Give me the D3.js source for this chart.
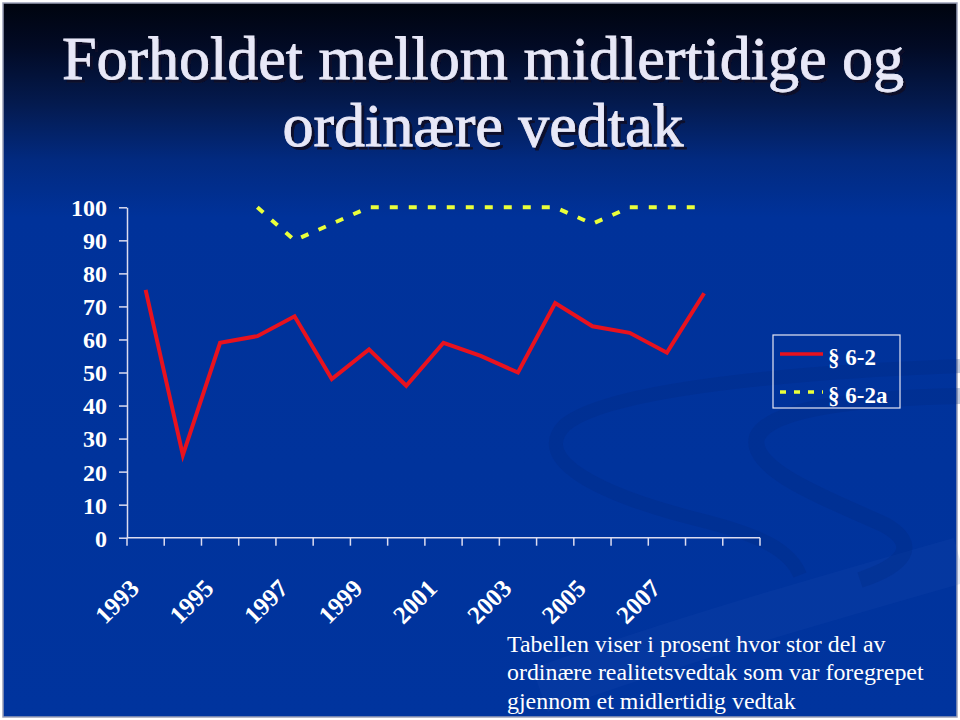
<!DOCTYPE html>
<html><head><meta charset="utf-8">
<script src="https://cdn.jsdelivr.net/npm/d3@7/dist/d3.min.js"></script>
<style>html,body{margin:0;padding:0;background:#fff;} svg{display:block}</style>
</head><body>
<script>
// ---- data ----
const categories = ["1993","1994","1995","1996","1997","1998","1999","2000","2001","2002","2003","2004","2005","2006","2007","2008","2009"];
const series62  = [75,25,59,61,67,48,57,46,59,55,50,71,64,62,56,74];
const series62a = [null,null,null,100,90,95,100,100,100,100,100,100,95,100,100,100];
const yTicks = [0,10,20,30,40,50,60,70,80,90,100];
const xLabels = ["1993","1995","1997","1999","2001","2003","2005","2007"];
const seriesNames = ["§ 6-2","§ 6-2a"];
const titleLines = ["Forholdet mellom midlertidige og","ordinære vedtak"];
const noteLines = ["Tabellen viser i prosent hvor stor del av","ordinære realitetsvedtak som var foregrepet","gjennom et midlertidig vedtak"];

const W = 960, H = 720;
const svg = d3.select("body").append("svg").attr("width", W).attr("height", H);
const defs = svg.append("defs");
const g1 = defs.append("linearGradient").attr("id","bg").attr("gradientUnits","userSpaceOnUse")
  .attr("x1",0).attr("y1",3).attr("x2",0).attr("y2",717);
[[0,"#00040f"],[0.06,"#020a24"],[0.14,"#041a4e"],[0.22,"#022a80"],[0.3,"#00329a"],[1,"#00349e"]]
  .forEach(([o,c]) => g1.append("stop").attr("offset",o).attr("stop-color",c));
const sh = defs.append("filter").attr("id","shadow").attr("x","-5%").attr("y","-20%").attr("width","110%").attr("height","150%");
sh.append("feDropShadow").attr("dx",3).attr("dy",3).attr("stdDeviation",0.6)
  .attr("flood-color","#070b28").attr("flood-opacity",0.95);

svg.append("rect").attr("width",W).attr("height",H).attr("fill","#ffffff");
svg.append("rect").attr("x",3).attr("y",3).attr("width",954).attr("height",714)
  .attr("fill","url(#bg)").attr("stroke","#9aa0b8").attr("stroke-width",1.5);

// background swooshes (subtle)
const sw = svg.append("g").attr("fill","none");
sw.append("path").attr("d","M 960,560 C 820,600 680,640 540,690")
  .attr("stroke","#2a5cc0").attr("stroke-opacity",0.12).attr("stroke-width",46);
sw.append("path").attr("d","M 960,366 C 800,372 610,388 565,425 C 530,460 600,495 700,520 C 760,535 790,550 800,575")
  .attr("stroke","#00287a").attr("stroke-opacity",0.25).attr("stroke-width",14);
sw.append("path").attr("d","M 960,396 C 860,398 770,408 757,437 C 748,470 830,500 885,525 C 920,545 905,565 860,580")
  .attr("stroke","#00287a").attr("stroke-opacity",0.25).attr("stroke-width",16);

// title
const title = svg.append("g").attr("font-family","'Liberation Serif','Times New Roman',serif").attr("font-size",62)
  .attr("filter","url(#shadow)");
const titleY = [79, 146];
titleLines.forEach((t,i) => {
  title.append("text").attr("x",483).attr("y",titleY[i]).attr("text-anchor","middle")
    .attr("fill","#e8e8f8").attr("stroke","#e8e8f8").attr("stroke-width",0.8).text(t);
});

// scales
const x = d3.scaleBand().domain(categories).range([127, 760]).paddingInner(0).paddingOuter(0);
const y = d3.scaleLinear().domain([0,100]).range([537.7, 207.3]);
const cx = d => x(d) + x.bandwidth()/2;
const axisColor = "#dcdcf0";

// y axis
const ya = svg.append("g").attr("transform","translate(127,0)")
  .call(d3.axisLeft(y).tickValues(yTicks).tickSize(8).tickPadding(12).tickSizeOuter(0));
ya.select(".domain").attr("stroke",axisColor).attr("stroke-width",1.5);
ya.selectAll(".tick line").attr("stroke",axisColor).attr("stroke-width",1.5);
ya.selectAll(".tick text").attr("fill","#ffffff").attr("font-family","'Liberation Serif',serif")
  .attr("font-weight","bold").attr("font-size",24).attr("dy","0.35em");

// x axis (ticks at category boundaries)
const xa = svg.append("g");
xa.append("line").attr("x1",x.range()[0]).attr("x2",x.range()[1]).attr("y1",y(0)).attr("y2",y(0))
  .attr("stroke",axisColor).attr("stroke-width",1.5);
const bounds = categories.map(d => x(d)).concat([x.range()[1]]);
xa.selectAll("line.tk").data(bounds).join("line").attr("class","tk")
  .attr("x1",d=>d).attr("x2",d=>d).attr("y1",y(0)).attr("y2",y(0)+8)
  .attr("stroke",axisColor).attr("stroke-width",1.5);
xa.selectAll("text").data(xLabels).join("text")
  .attr("transform", d => `translate(${cx(d)-5},590) rotate(-45)`)
  .attr("text-anchor","end").attr("fill","#ffffff")
  .attr("font-family","'Liberation Serif',serif").attr("font-weight","bold").attr("font-size",25)
  .text(d=>d);

// lines
const line = d3.line().defined(d => d.v != null).x(d => cx(d.c)).y(d => y(d.v));
const redData = series62.map((v,i)=>({c:categories[i], v}));
const yelData = series62a.map((v,i)=>({c:categories[i], v}));
svg.append("path").datum(yelData).attr("d",line).attr("fill","none")
  .attr("stroke","#eaff3a").attr("stroke-width",4).attr("stroke-dasharray","8,11");
svg.append("path").datum(redData).attr("d",line).attr("fill","none")
  .attr("stroke","#e8121e").attr("stroke-width",4).attr("stroke-linejoin","miter");

// legend
const lg = svg.append("g");
lg.append("rect").attr("x",773).attr("y",335).attr("width",127).attr("height",73)
  .attr("fill","none").attr("stroke","#e6e6f4").attr("stroke-width",1.2);
const legRows = [{name:seriesNames[0], y:354, color:"#e8121e", dash:null},
                 {name:seriesNames[1], y:392, color:"#eaff3a", dash:"6,8"}];
legRows.forEach(r => {
  lg.append("line").attr("x1",780).attr("x2",823).attr("y1",r.y).attr("y2",r.y)
    .attr("stroke",r.color).attr("stroke-width",3.5).attr("stroke-dasharray",r.dash);
  lg.append("text").attr("x",828).attr("y",r.y+11).attr("fill","#ffffff")
    .attr("font-family","'Liberation Serif',serif").attr("font-weight","bold").attr("font-size",23)
    .text(r.name);
});

// note
const note = svg.append("g").attr("font-family","'Liberation Serif',serif").attr("font-size",23.9).attr("fill","#ffffff");
noteLines.forEach((t,i) => note.append("text").attr("x",507).attr("y",652 + i*28.3).text(t));
</script>
</body></html>
